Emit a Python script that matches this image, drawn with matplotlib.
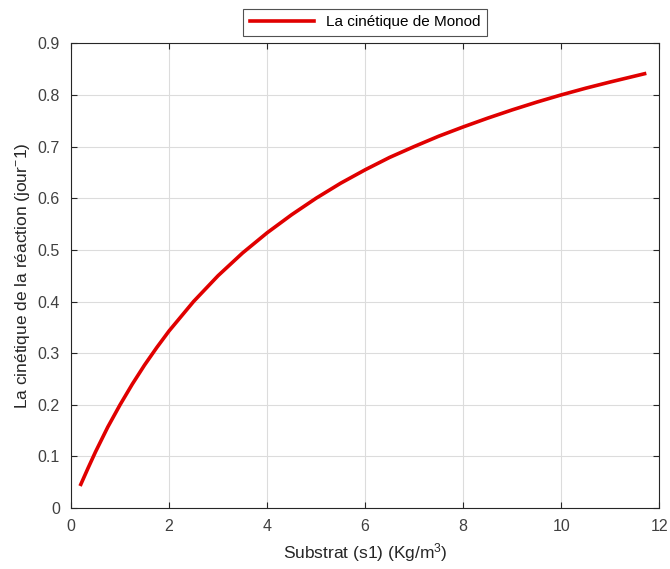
import matplotlib.pyplot as plt

plt.rcParams['font.family'] = ['Liberation Sans', 'DejaVu Sans']
plt.rcParams['mathtext.default'] = 'regular'

# Cinétique de Monod : substrat (kg/m3) et vitesse (jour^-1)
substrat = [0.2, 0.35, 0.5, 0.75, 1.0, 1.25, 1.5, 1.75, 2.0, 2.5, 3.0, 3.5,
            4.0, 4.5, 5.0, 5.5, 6.0, 6.5, 7.0, 7.5, 8.0, 8.5, 9.0, 9.5,
            10.0, 10.5, 11.0, 11.7]
cinetique = [0.046, 0.078, 0.109, 0.157, 0.200, 0.240, 0.277, 0.311, 0.343,
             0.400, 0.450, 0.494, 0.533, 0.568, 0.600, 0.629, 0.655, 0.679,
             0.700, 0.720, 0.738, 0.755, 0.771, 0.786, 0.800, 0.813, 0.825,
             0.841]

xticks = [0, 2, 4, 6, 8, 10, 12]
yticks = [0, 0.1, 0.2, 0.3, 0.4, 0.5, 0.6, 0.7, 0.8, 0.9]

fig = plt.figure(figsize=(6.7, 5.69), dpi=100)
ax = fig.add_axes([0.106, 0.107, 0.878, 0.817])

ax.plot(substrat, cinetique, color='#e00000', linewidth=2.6,
        solid_joinstyle='round', label='La cinétique de Monod')

ax.set_xlim(0, 12)
ax.set_ylim(0, 0.9)
ax.set_xticks(xticks)
ax.set_yticks(yticks)
ax.set_yticklabels(['0' if v == 0 else f'{v:g}' for v in yticks])
ax.grid(True, color='#dcdcdc', linewidth=0.8)
ax.set_axisbelow(True)

for s in ax.spines.values():
    s.set_color('#262626')
    s.set_linewidth(0.8)
ax.tick_params(direction='in', length=4, colors='#262626', labelsize=11.5,
               top=True, right=True, labeltop=False, labelright=False)
ax.tick_params(axis='x', pad=8)
ax.tick_params(axis='y', pad=8)
for lbl in ax.get_xticklabels() + ax.get_yticklabels():
    lbl.set_color('#404040')

ax.set_xlabel('Substrat (s1) (Kg/m$^3$)', fontsize=12.5, color='#262626',
              labelpad=5)
ax.set_ylabel('La cinétique de la réaction (jour$^{-}$1)', fontsize=12.5,
              color='#262626', labelpad=4)

leg = ax.legend(loc='lower center', bbox_to_anchor=(0.5, 1.015), fontsize=11,
                frameon=True, fancybox=False, handlelength=4.2,
                borderpad=0.45, borderaxespad=0)
leg.get_frame().set_edgecolor('#262626')
leg.get_frame().set_linewidth(0.8)

fig.savefig('out.png', dpi=100)
